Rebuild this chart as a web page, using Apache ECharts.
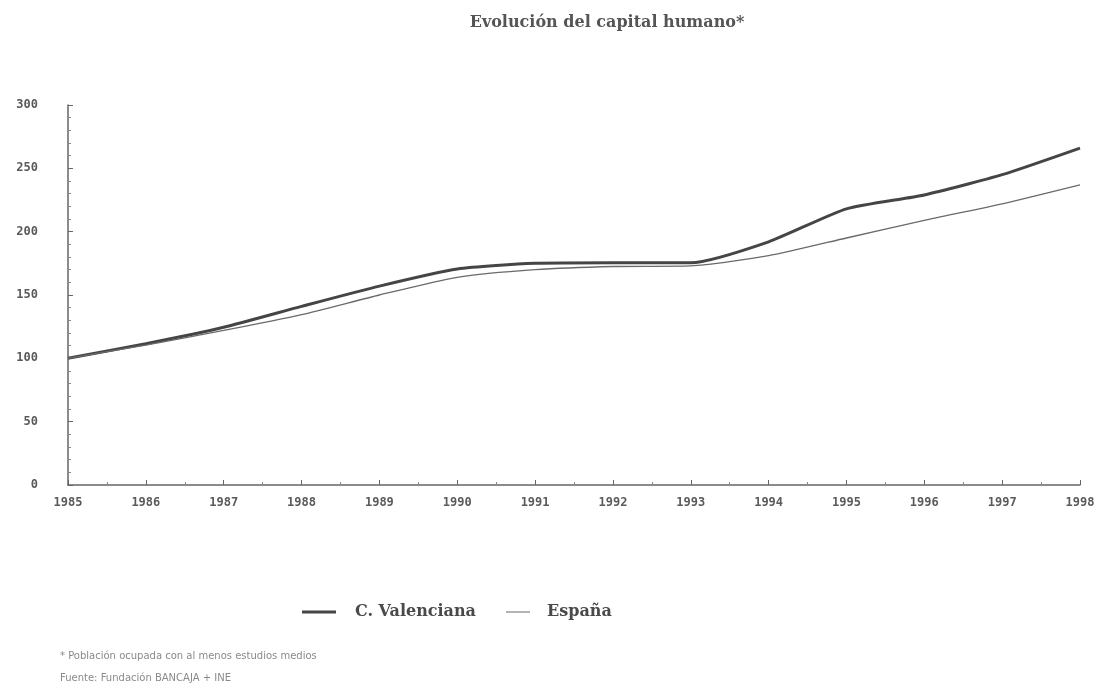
<!DOCTYPE html>
<html>
<head>
<meta charset="utf-8">
<script src="https://cdn.jsdelivr.net/npm/echarts@6/dist/echarts.min.js"></script>
<style>
html,body{margin:0;padding:0;background:#fff;}
#chart{width:1105px;height:692px;}
</style>
</head>
<body>
<div id="chart"></div>
<script>
var years = [1985,1986,1987,1988,1989,1990,1991,1992,1993,1994,1995,1996,1997,1998];
var valenciana = [100,111.5,124.5,141,157,170.5,175,175.5,175.5,192,218,229,245,266];
var espana = [100,110.5,122,134.5,150,164,170,172.5,173,181,195,209,222,237];
var titleText = 'Evolución del capital humano*';
var seriesNames = ['C. Valenciana','España'];
var footnote1 = '* Población ocupada con al menos estudios medios';
var footnote2 = 'Fuente: Fundación BANCAJA + INE';

function pairs(vals){ return years.map(function(y,i){ return [y, vals[i]]; }); }

var thickIcon = 'path://M0,0L0.01,0ZM0,4.5L34,4.5L34,7.5L0,7.5ZM0,12L0.01,12Z';
var thinIcon = 'path://M0,0L0.01,0ZM2,5.4L26,5.4L26,6.6L2,6.6ZM34,12L33.99,12Z';
var legendFont = {fontFamily:'DejaVu Serif', fontSize:16, fontWeight:'bold', color:'#4a4a4a'};

var chart = echarts.init(document.getElementById('chart'), null, {renderer:'canvas'});
chart.setOption({
  backgroundColor:'#fff',
  animation:false,
  title:[
    {text:titleText, left:602, top:10, textAlign:'center',
     textStyle:{fontFamily:'DejaVu Serif', fontSize:16, fontWeight:'bold', color:'#555'}},
    {text:footnote1, left:55, top:646,
     textStyle:{fontFamily:'DejaVu Sans', fontSize:10, fontWeight:'normal', color:'#8a8a8a'}},
    {text:footnote2, left:55, top:668,
     textStyle:{fontFamily:'DejaVu Sans', fontSize:10, fontWeight:'normal', color:'#8a8a8a'}}
  ],
  legend:{
    data:[
      {name:seriesNames[0], icon:thickIcon, textStyle:Object.assign({padding:[0,0,0,14]}, legendFont)},
      {name:seriesNames[1], icon:thinIcon, textStyle:Object.assign({padding:[0,0,0,4]}, legendFont)}
    ],
    left:297, top:599, itemWidth:34, itemHeight:12, itemGap:28,
    textStyle:legendFont
  },
  grid:{left:68, right:25, top:105, bottom:207},
  xAxis:{
    type:'value', min:1985, max:1998, interval:1,
    axisLine:{show:true, lineStyle:{color:'#666', width:1.5}},
    axisTick:{show:true, length:-5, lineStyle:{color:'#666'}},
    minorTick:{show:true, splitNumber:2, length:-3, lineStyle:{color:'#888'}},
    splitLine:{show:false},
    axisLabel:{margin:12, fontFamily:'DejaVu Sans Mono', fontSize:12, fontWeight:'bold', color:'#5a5a5a',
      formatter:function(v){return String(v);}}
  },
  yAxis:{
    type:'value', min:0, max:300, interval:50,
    axisLine:{show:true, lineStyle:{color:'#666', width:1.5}},
    axisTick:{show:true, length:-5, lineStyle:{color:'#666'}},
    minorTick:{show:true, splitNumber:5, length:-3, lineStyle:{color:'#888'}},
    splitLine:{show:false},
    axisLabel:{margin:30, fontFamily:'DejaVu Sans Mono', fontSize:12, fontWeight:'bold', color:'#5a5a5a'}
  },
  series:[
    {name:seriesNames[0], type:'line', data:pairs(valenciana), symbol:'none', smooth:0.2,
     lineStyle:{color:'#454545', width:3}, itemStyle:{color:'#454545'}},
    {name:seriesNames[1], type:'line', data:pairs(espana), symbol:'none', smooth:0.2,
     lineStyle:{color:'#6a6a6a', width:1.3}, itemStyle:{color:'#6a6a6a'}}
  ]
});
</script>
</body>
</html>
